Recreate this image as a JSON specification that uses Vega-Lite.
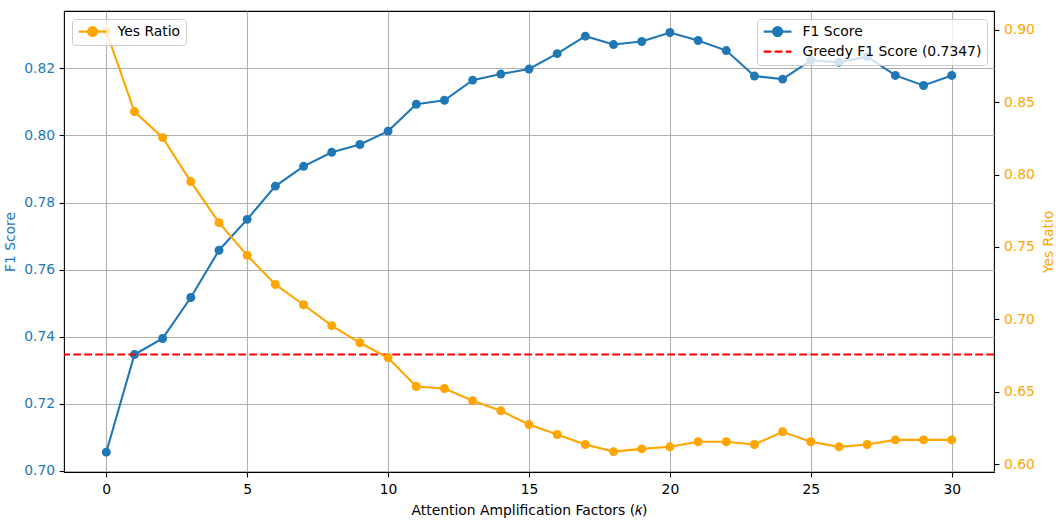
{
  "$schema": "https://vega.github.io/schema/vega-lite/v6.json",
  "width": 930,
  "height": 461,
  "autosize": {"type": "none"},
  "padding": {"left": 64, "top": 11, "right": 62, "bottom": 53},
  "background": "white",
  "config": {
    "font": "DejaVu Sans",
    "view": {"stroke": "black", "strokeWidth": 1.1},
    "axis": {
      "domain": false,
      "tickColor": "black",
      "tickSize": 4.9,
      "tickWidth": 1.1,
      "labelFontSize": 13.9,
      "labelPadding": 4.5,
      "titleFontSize": 13.9,
      "titleFontWeight": "normal",
      "gridColor": "#b0b0b0",
      "gridWidth": 1.1,
      "labelFlush": false
    },
    "legend": {
      "title": null,
      "fillColor": "rgba(255,255,255,0.8)",
      "strokeColor": "#cccccc",
      "cornerRadius": 3,
      "padding": 5.6,
      "labelFontSize": 13.9,
      "labelColor": "black",
      "labelLimit": 0,
      "symbolSize": 772,
      "symbolStrokeWidth": 2.1,
      "clipHeight": 14,
      "rowPadding": 6,
      "labelOffset": 10,
      "offset": 7.5
    }
  },
  "datasets": {
    "f1": [
      {"k": 0, "f1": 0.7056}, {"k": 1, "f1": 0.7347}, {"k": 2, "f1": 0.7395}, {"k": 3, "f1": 0.7517},
      {"k": 4, "f1": 0.7658}, {"k": 5, "f1": 0.7750}, {"k": 6, "f1": 0.7849}, {"k": 7, "f1": 0.7908},
      {"k": 8, "f1": 0.7950}, {"k": 9, "f1": 0.7973}, {"k": 10, "f1": 0.8013}, {"k": 11, "f1": 0.8093},
      {"k": 12, "f1": 0.8105}, {"k": 13, "f1": 0.8165}, {"k": 14, "f1": 0.8183}, {"k": 15, "f1": 0.8198},
      {"k": 16, "f1": 0.8244}, {"k": 17, "f1": 0.8296}, {"k": 18, "f1": 0.8271}, {"k": 19, "f1": 0.8280},
      {"k": 20, "f1": 0.8307}, {"k": 21, "f1": 0.8283}, {"k": 22, "f1": 0.8253}, {"k": 23, "f1": 0.8177},
      {"k": 24, "f1": 0.8168}, {"k": 25, "f1": 0.8224}, {"k": 26, "f1": 0.8218}, {"k": 27, "f1": 0.8235},
      {"k": 28, "f1": 0.8179}, {"k": 29, "f1": 0.8149}, {"k": 30, "f1": 0.8179}
    ],
    "yes": [
      {"k": 0, "yes": 0.8991}, {"k": 1, "yes": 0.8436}, {"k": 2, "yes": 0.8256}, {"k": 3, "yes": 0.7952},
      {"k": 4, "yes": 0.7668}, {"k": 5, "yes": 0.7442}, {"k": 6, "yes": 0.7241}, {"k": 7, "yes": 0.7101},
      {"k": 8, "yes": 0.6956}, {"k": 9, "yes": 0.6838}, {"k": 10, "yes": 0.6734}, {"k": 11, "yes": 0.6536},
      {"k": 12, "yes": 0.6522}, {"k": 13, "yes": 0.6437}, {"k": 14, "yes": 0.6368}, {"k": 15, "yes": 0.6273},
      {"k": 16, "yes": 0.6204}, {"k": 17, "yes": 0.6135}, {"k": 18, "yes": 0.6086}, {"k": 19, "yes": 0.6105},
      {"k": 20, "yes": 0.6119}, {"k": 21, "yes": 0.6154}, {"k": 22, "yes": 0.6154}, {"k": 23, "yes": 0.6135},
      {"k": 24, "yes": 0.6223}, {"k": 25, "yes": 0.6154}, {"k": 26, "yes": 0.6119}, {"k": 27, "yes": 0.6135},
      {"k": 28, "yes": 0.6167}, {"k": 29, "yes": 0.6167}, {"k": 30, "yes": 0.6167}
    ],
    "greedy": [{"greedy": 0.7347, "label": "Greedy F1 Score (0.7347)"}]
  },
  "layer": [
    {
      "layer": [
        {
          "data": {"name": "f1"},
          "mark": {"type": "line", "strokeWidth": 2.1, "point": {"filled": true, "size": 80, "opacity": 1}},
          "encoding": {
            "x": {
              "field": "k", "type": "quantitative",
              "scale": {"domain": [-1.5, 31.5], "nice": false, "zero": false},
              "axis": {"values": [0, 5, 10, 15, 20, 25, 30], "grid": true, "labelColor": "black", "titleColor": "black", "title": "Attention Amplification Factors (𝑘)", "labelPadding": 6, "titlePadding": 7}
            },
            "y": {
              "field": "f1", "type": "quantitative",
              "scale": {"domain": [0.6997, 0.8371], "nice": false, "zero": false},
              "axis": {"values": [0.70, 0.72, 0.74, 0.76, 0.78, 0.80, 0.82], "format": ".2f", "grid": true, "labelColor": "#1f77b4", "title": "F1 Score", "titleColor": "#1f77b4", "titlePadding": 6}
            },
            "color": {
              "datum": "F1 Score",
              "scale": {"domain": ["F1 Score", "Greedy F1 Score (0.7347)"], "range": ["#1f77b4", "#ff0000"]},
              "legend": {
                "orient": "top-right",
                "encode": {
                  "symbols": {
                    "update": {
                      "shape": {"signal": "datum.value === 'F1 Score' ? 'M-1,0H1M-0.32,0A0.32,0.32,0,1,1,0.32,0A0.32,0.32,0,1,1,-0.32,0Z' : 'M-1,0H1'"},
                      "strokeDash": {"signal": "datum.value === 'F1 Score' ? [1,0] : [7.7,3.3]"},
                      "fill": {"signal": "datum.value === 'F1 Score' ? '#1f77b4' : 'transparent'"},
                      "stroke": {"signal": "datum.value === 'F1 Score' ? '#1f77b4' : '#ff0000'"},
                      "opacity": {"value": 1}
                    }
                  }
                }
              }
            }
          }
        },
        {
          "data": {"name": "greedy"},
          "mark": {"type": "rule", "strokeWidth": 2.1, "strokeDash": [7.7, 3.3]},
          "encoding": {
            "y": {"field": "greedy", "type": "quantitative"},
            "color": {"field": "label", "type": "nominal"}
          }
        }
      ]
    },
    {
      "data": {"name": "yes"},
      "mark": {"type": "line", "strokeWidth": 2.1, "point": {"filled": true, "size": 80, "opacity": 1}},
      "encoding": {
        "x": {"field": "k", "type": "quantitative"},
        "y": {
          "field": "yes", "type": "quantitative",
          "scale": {"domain": [0.5945, 0.9131], "nice": false, "zero": false},
          "axis": {"orient": "right", "values": [0.60, 0.65, 0.70, 0.75, 0.80, 0.85, 0.90], "format": ".2f", "grid": false, "labelColor": "#ffa500", "title": "Yes Ratio", "titleColor": "#ffa500", "titlePadding": 7, "titleAngle": 270, "titleBaseline": "top"}
        },
        "color": {
          "datum": "Yes Ratio",
          "scale": {"domain": ["Yes Ratio"], "range": ["#ffa500"]},
          "legend": {
            "orient": "top-left",
            "encode": {
              "symbols": {
                "update": {
                  "shape": {"value": "M-1,0H1M-0.32,0A0.32,0.32,0,1,1,0.32,0A0.32,0.32,0,1,1,-0.32,0Z"},
                  "fill": {"value": "#ffa500"},
                  "stroke": {"value": "#ffa500"},
                  "opacity": {"value": 1}
                }
              }
            }
          }
        }
      }
    }
  ],
  "resolve": {"scale": {"y": "independent", "color": "independent"}}
}
